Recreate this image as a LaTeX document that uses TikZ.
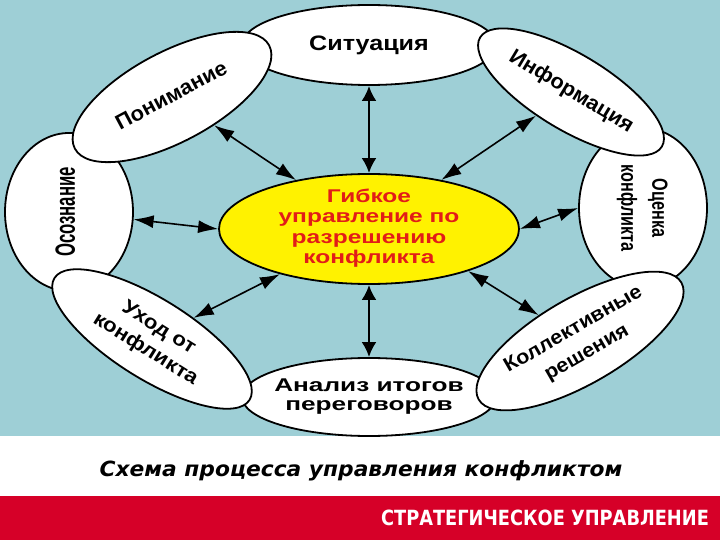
\documentclass[tikz,border=0pt]{standalone}
\usepackage{fontspec}
\setmainfont{Liberation Sans}
\newfontfamily\capfont[BoldItalicFont={DejaVu Sans Bold Oblique}]{DejaVu Sans}
\usetikzlibrary{shapes.geometric}
\usetikzlibrary{arrows.meta}

\definecolor{bgblue}{RGB}{158,207,214}
\definecolor{barred}{RGB}{214,0,40}
\definecolor{corered}{RGB}{226,28,24}

% stretched, centred block of lines
\newcommand{\wide}[2]{\scalebox{#1}[1]{\begin{tabular}{@{}c@{}}#2\end{tabular}}}

\tikzset{
  stage/.style={ellipse, draw=black, line width=1.8bp, fill=white, inner sep=0pt,
    font=\fontsize{21}{26}\selectfont\bfseries},
  link/.style={{Latex[length=20bp,width=13bp]}-{Latex[length=20bp,width=13bp]}, line width=1.6bp},
  axislink/.style={{Latex[length=15bp,width=15bp]}-{Latex[length=15bp,width=15bp]}, line width=2.6bp},
}

\begin{document}
\begin{tikzpicture}[x=1bp, y=-1bp]
\useasboundingbox (0,0) rectangle (720,540);
\fill[bgblue] (0,0) rectangle (720,436);
\fill[barred] (0,496) rectangle (720,540);

% ring: straight ones below the tilted ones
\node[stage, minimum width=254bp, minimum height=80bp] (sit) at (369,45) {\wide{1.2}{Ситуация}};
\node[stage, minimum width=128bp, minimum height=158bp] (osoz) at (69,212)
  {\rotatebox{90}{\fontsize{28}{30}\selectfont\wide{0.6}{Осознание}}};
\node[stage, minimum width=128bp, minimum height=160bp] (otsen) at (643,208)
  {\rotatebox{-90}{\fontsize{22}{31}\selectfont\wide{0.74}{Оценка\\конфликта}}};
\node[stage, minimum width=254bp, minimum height=78bp, inner xsep=-12bp,
  font=\fontsize{18.5}{20}\selectfont\bfseries] (anal) at (369,397)
  {\wide{1.42}{Анализ итогов\\переговоров}};

\node[stage, rotate=28, minimum width=220bp, minimum height=90bp] (ponim) at (172,97) {\wide{1.05}{Понимание}};
\node[stage, rotate=-31, minimum width=212bp, minimum height=76bp, inner xsep=-4bp] (inf) at (571,92) {\wide{1.04}{Информация}};
\node[stage, rotate=30, minimum width=234bp, minimum height=86bp, inner xsep=-4bp,
  font=\fontsize{20}{27}\selectfont\bfseries] (koll) at (580,341) {\wide{1.08}{Коллективные\\решения}};
\node[stage, rotate=-32, minimum width=230bp, minimum height=80bp,
  font=\fontsize{20}{25}\selectfont\bfseries] (uhod) at (152,339) {\wide{1.12}{Уход от\\конфликта}};

% centre
\node[stage, fill=yellow, minimum width=300bp, minimum height=110bp, inner ysep=-6bp,
  text=corered, font=\fontsize{18.5}{20.5}\selectfont\bfseries] (core) at (369,229)
  {\wide{1.33}{Гибкое\\управление по\\разрешению\\конфликта}};

\draw[axislink] (sit) -- (core);
\draw[axislink] (anal) -- (core);
\draw[link] (ponim) -- (core);
\draw[link] (inf) -- (core);
\draw[link] (osoz) -- (core.west);
\draw[link] (otsen.west) -- (core.east);
\draw[link] (uhod) -- (core);
\draw[link] (koll) -- (core.-23);

% captions
\node[font=\capfont\fontsize{21}{24}\selectfont\bfseries\itshape] (title) at (361,471)
  {\scalebox{1.04}[1]{Схема процесса управления конфликтом}};
\node[font=\capfont\fontsize{21}{24}\selectfont\bfseries, text=white] (brand) at (545,518)
  {\scalebox{0.85}[1]{СТРАТЕГИЧЕСКОЕ УПРАВЛЕНИЕ}};
\end{tikzpicture}
\end{document}
